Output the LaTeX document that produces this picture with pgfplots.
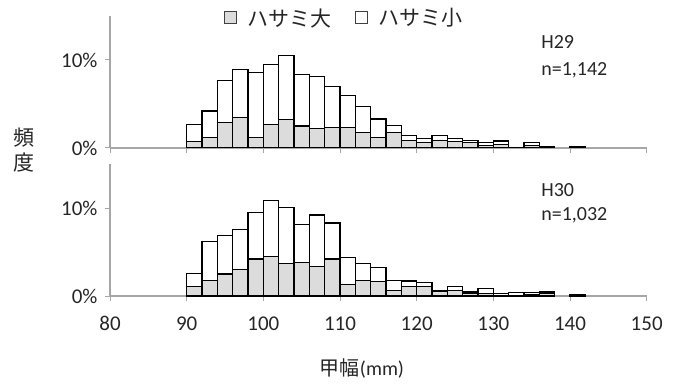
\documentclass[border=0pt]{standalone}
\usepackage{fontspec}
\setmainfont{Carlito}
\newfontfamily\cjk{Noto Sans CJK JP}
\usepackage{pgfplots}
\pgfplotsset{compat=1.18}
\usepackage{pgfplotstable}

\pgfplotstableread{
x big small
91 0.7 2.0
93 1.2 3.0
95 2.9 4.8
97 3.5 5.4
99 1.2 7.4
101 2.7 6.8
103 3.2 7.3
105 2.5 5.9
107 2.2 5.9
109 2.3 4.7
111 2.3 3.7
113 1.8 2.9
115 1.2 2.1
117 1.8 0.8
119 0.9 0.5
121 0.6 0.5
123 0.9 0.5
125 0.7 0.4
127 0.6 0.3
129 0.3 0.3
131 0.4 0.4
133 0.0 0.1
135 0.3 0.3
137 0.1 0.1
141 0.0 0.2
}\dataA

\pgfplotstableread{
x big small
91 1.1 1.5
93 1.8 4.4
95 2.5 4.4
97 3.0 4.6
99 4.2 5.3
101 4.5 6.4
103 3.7 6.4
105 3.8 4.3
107 3.4 5.8
109 4.2 4.1
111 1.3 3.05
113 1.8 1.9
115 1.6 1.6
117 0.6 1.2
119 1.1 0.6
121 1.1 0.4
123 0.5 0.1
125 0.6 0.5
127 0.3 0.15
129 0.3 0.6
131 0.1 0.2
133 0.1 0.25
135 0.2 0.15
137 0.3 0.15
141 0.0 0.2
}\dataB

\definecolor{biggray}{HTML}{DCDCDC}
\definecolor{axgray}{HTML}{A6A6A6}

\pgfplotsset{
  panel/.style={
    scale only axis, width=536.7pt, height=132pt,
    xmin=80, xmax=150, ymin=0, ymax=15,
    axis lines*=left,
    axis line style={draw=axgray, line width=1.3pt},
    xtick={80,90,...,150}, ytick={0,10},
    yticklabel={\pgfmathprintnumber{\tick}\%},
    tick align=outside, major tick length=5pt,
    tick style={draw=axgray, line width=1pt},
    /pgf/number format/assume math mode=true,
    every tick label/.append style={font=\fontsize{21}{25}\selectfont, text=black!85},
    xticklabel style={yshift=-12pt},
    yticklabel style={xshift=-4pt},
    ybar stacked, bar width=2,
  },
  bigbar/.style={fill=biggray, draw=black, line width=1.15pt},
  smallbar/.style={fill=white, draw=black, line width=1.15pt},
}

\begin{document}
\begin{tikzpicture}
\useasboundingbox (-110pt,-89pt) rectangle (566pt,296pt);

\begin{axis}[panel, at={(0pt,0pt)}, anchor=south west]
\addplot[bigbar] table[x=x, y=big] {\dataB};
\addplot[smallbar] table[x=x, y=small] {\dataB};
\node[anchor=west, font=\fontsize{20}{24}\selectfont, text=black!85] at (axis cs:135.8,12.05) {H30};
\node[anchor=west, font=\fontsize{20}{24}\selectfont, text=black!85] at (axis cs:135.8,9.2) {n=1,032};
\end{axis}

\begin{axis}[panel, at={(0pt,148pt)}, anchor=south west, xticklabels={},
  legend style={at={(0.436,0.985)}, anchor=center, draw=none, fill=none,
    font=\cjk\fontsize{21}{25}\selectfont, text=black!85,
    /tikz/every even column/.append style={column sep=22pt}},
  legend columns=2]
\addplot[bigbar, legend image code/.code={\draw[fill=biggray, draw=black!75, line width=1pt] (0pt,-6pt) rectangle (12pt,6pt); \path (20pt,0pt);}] table[x=x, y=big] {\dataA};
\addlegendentry{ハサミ大}
\addplot[smallbar, legend image code/.code={\draw[fill=white, draw=black!75, line width=1pt] (0pt,-6pt) rectangle (12pt,6pt); \path (20pt,0pt);}] table[x=x, y=small] {\dataA};
\addlegendentry{ハサミ小}
\node[anchor=west, font=\fontsize{20}{24}\selectfont, text=black!85] at (axis cs:135.8,12.05) {H29};
\node[anchor=west, font=\fontsize{20}{24}\selectfont, text=black!85] at (axis cs:135.8,8.86) {n=1,142};
\end{axis}

\node[align=center, font=\cjk\fontsize{21}{25}\selectfont, text=black!85] at (-86pt,146pt) {頻\\度};
\node[font=\fontsize{20}{24}\selectfont, text=black!85] at (252pt,-72pt) {{\cjk 甲幅}(mm)};
\end{tikzpicture}
\end{document}
